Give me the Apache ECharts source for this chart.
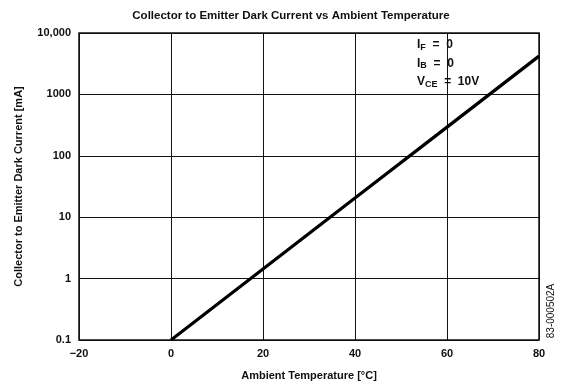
<!DOCTYPE html>
<html>
<head>
<meta charset="utf-8">
<script src="https://cdn.jsdelivr.net/npm/echarts@6/dist/echarts.min.js"></script>
<style>
  html, body { margin: 0; padding: 0; background: #fff; }
  #chart { width: 561px; height: 387px; }
</style>
</head>
<body>
<div id="chart"></div>
<script>
// temperature (°C) vs dark current (mA)
var temps = [0, 20, 40, 60, 80];
var darkCurrent = [0.1, 1.43, 20.5, 293, 4200];
var yTickLabels = { 0.1: '0.1', 1: '1', 10: '10', 100: '100', 1000: '1000', 10000: '10,000' };
var conditions = ['I{s|F}  =  0', 'I{s|B}  =  0', 'V{s|CE}  =  10V'];

var font = 'Liberation Sans, Arial, Helvetica, sans-serif';
var chart = echarts.init(document.getElementById('chart'));

var option = {
  animation: false,
  backgroundColor: '#fff',
  title: {
    text: 'Collector to Emitter Dark Current vs Ambient Temperature',
    left: 286, top: 5, textAlign: 'center',
    textStyle: { fontFamily: font, fontSize: 11.5, fontWeight: 'bold', color: '#111' }
  },
  grid: { left: 79, right: 22, top: 33, bottom: 47, show: true, borderColor: '#111', borderWidth: 1.5 },
  xAxis: {
    type: 'value', min: -20, max: 80, interval: 20,
    name: 'Ambient Temperature [°C]', nameLocation: 'middle', nameGap: 30,
    nameTextStyle: { fontFamily: font, fontSize: 11, fontWeight: 'bold', color: '#111' },
    axisLine: { show: false }, axisTick: { show: false },
    axisLabel: {
      fontFamily: font, fontSize: 11, fontWeight: 'bold', color: '#111', margin: 8,
      formatter: function (v) { return v < 0 ? '\u2212' + Math.abs(v) : String(v); }
    },
    splitLine: { show: true, lineStyle: { color: '#111', width: 1 } }
  },
  yAxis: {
    type: 'log', logBase: 10, min: 0.1, max: 10000,
    name: 'Collector to Emitter Dark Current [mA]', nameLocation: 'middle', nameGap: 55,
    nameTextStyle: { fontFamily: font, fontSize: 11, fontWeight: 'bold', color: '#111' },
    axisLine: { show: false }, axisTick: { show: false },
    axisLabel: {
      fontFamily: font, fontSize: 11, fontWeight: 'bold', color: '#111', margin: 8,
      formatter: function (v) {
        var k = Number(v.toPrecision(3));
        return yTickLabels[k] !== undefined ? yTickLabels[k] : '';
      }
    },
    splitLine: { show: true, lineStyle: { color: '#111', width: 1 } }
  },
  series: [{
    type: 'line',
    data: temps.map(function (t, i) { return [t, darkCurrent[i]]; }),
    showSymbol: false,
    lineStyle: { color: '#000', width: 3.2 }
  }],
  graphic: [
    {
      type: 'group', left: 417, top: 39,
      children: conditions.map(function (c, i) {
        return {
          type: 'text', x: 0, y: i * 18.5,
          style: {
            text: c, fontFamily: font, fontSize: 12, fontWeight: 'bold', fill: '#111',
            rich: { s: { fontFamily: font, fontSize: 9, fontWeight: 'bold', fill: '#111', padding: [5, 0, 0, 0] } }
          }
        };
      })
    },
    {
      type: 'text', x: 551, y: 311, rotation: Math.PI / 2,
      style: { text: '83-000502A', fontFamily: font, fontSize: 10, fill: '#111', align: 'center', verticalAlign: 'middle' }
    }
  ]
};
chart.setOption(option);
</script>
</body>
</html>
